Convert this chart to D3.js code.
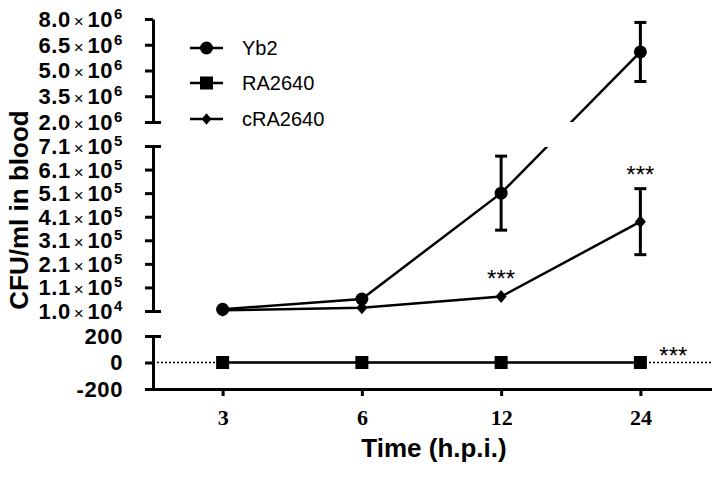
<!DOCTYPE html>
<html><head><meta charset="utf-8">
<script src="https://cdn.jsdelivr.net/npm/d3@7"></script>
<style>body{margin:0;background:#fff}</style>
</head><body><svg id="chart" width="720" height="478"></svg>
<script>
// ---- data ----
const categories = ["3", "6", "12", "24"];
const seriesNames = ["Yb2", "RA2640", "cRA2640"];
const seriesShapes = ["circle", "square", "diamond"];
const yb2 = [1.7e4, 6.1e4, 5.1e5, 6.08e6];
const yb2Err = [0, 0, 1.57e5, 1.72e6];
const ra2640 = [0, 0, 0, 0];
const ra2640Err = [0, 0, 0, 0];
const cra2640 = [1.3e4, 2.4e4, 7.1e4, 3.89e5];
const cra2640Err = [0, 0, 0, 1.4e5];
const topTicks = [2.0e6, 3.5e6, 5.0e6, 6.5e6, 8.0e6];
const midTicks = [1.0e4, 1.1e5, 2.1e5, 3.1e5, 4.1e5, 5.1e5, 6.1e5, 7.1e5];
const botTicks = [-200, 0, 200];
const sigCats = ["12", "24", "24"];
const sigSeries = ["cRA2640", "cRA2640", "RA2640"];
const sigText = ["***", "***", "***"];
const xTitle = "Time (h.p.i.)";
const yTitle = "CFU/ml in blood";

// ---- layout ----
const svg = d3.select("#chart");
const AX = 153, XR = 710, XEND = 712;
const x = d3.scalePoint().domain(categories).range([AX, XR]).padding(0.5);
const yTop = d3.scaleLinear().domain([2e6, 8e6]).range([122, 19]);
const yMid = d3.scaleLinear().domain([1e4, 7.1e5]).range([311, 146]);
const yBot = d3.scaleLinear().domain([-200, 200]).range([389, 336]);
function yPos(v) { if (v >= 1e6) return yTop(v); if (v >= 1000) return yMid(v); return yBot(v); }

const series = [
  {name: seriesNames[0], shape: seriesShapes[0], vals: yb2, errs: yb2Err},
  {name: seriesNames[1], shape: seriesShapes[1], vals: ra2640, errs: ra2640Err},
  {name: seriesNames[2], shape: seriesShapes[2], vals: cra2640, errs: cra2640Err}
];

const SANS = "'Liberation Sans', Arial, Helvetica, sans-serif";
const SERIF = "'Liberation Serif', 'Times New Roman', serif";

// ---- y axes (segmented) ----
function fmtSci(v) {
  const e = Math.floor(Math.log10(v) + 1e-9);
  const m = (v / Math.pow(10, e)).toFixed(1);
  return {m, e};
}
const segs = [
  {scale: yTop, ticks: topTicks, sci: true},
  {scale: yMid, ticks: midTicks, sci: true},
  {scale: yBot, ticks: botTicks, sci: false}
];
segs.forEach(s => {
  const g = svg.append("g").attr("transform", `translate(${AX},0)`)
    .call(d3.axisLeft(s.scale).tickValues(s.ticks).tickSize(8).tickSizeOuter(0).tickPadding(22));
  g.select(".domain").attr("stroke", "#000").attr("stroke-width", 3);
  g.selectAll(".tick line").attr("stroke", "#000").attr("stroke-width", 3);
  g.selectAll(".tick text").each(function(d) {
    const t = d3.select(this).text(null)
      .attr("font-family", SANS).attr("font-weight", "bold").attr("font-size", 22)
      .attr("fill", "#000").attr("dy", "0.34em").attr("letter-spacing", 0.6);
    if (s.sci) {
      const f = fmtSci(d);
      t.append("tspan").text(f.m);
      t.append("tspan").attr("font-weight", "normal").attr("font-size", 17).attr("dx", 3).text("\u00d7");
      t.append("tspan").attr("dx", 3).text("10");
      t.append("tspan").attr("font-size", 15).attr("dx", 1).attr("dy", -8).text(f.e);
    } else {
      t.text(String(d));
    }
  });
});
// break caps on right side of y axis
const caps = [yTop.range()[0], yMid.range()[1], yMid.range()[0], yBot.range()[1]];
svg.append("g").selectAll("line").data(caps).join("line")
  .attr("x1", AX).attr("x2", AX + 8).attr("y1", d => d + 0.5).attr("y2", d => d + 0.5)
  .attr("stroke", "#000").attr("stroke-width", 3);

// ---- x axis ----
const gx = svg.append("g").attr("transform", `translate(0,${yBot(-200)})`)
  .call(d3.axisBottom(x).tickSize(7).tickSizeOuter(0).tickPadding(13));
gx.select(".domain").remove();
gx.append("line").attr("x1", AX).attr("x2", XEND).attr("y1", 0.5).attr("y2", 0.5)
  .attr("stroke", "#000").attr("stroke-width", 3);
gx.selectAll(".tick line").attr("stroke", "#000").attr("stroke-width", 3);
gx.selectAll(".tick text").attr("font-family", SERIF).attr("font-weight", "bold")
  .attr("font-size", 22).attr("fill", "#000");

// ---- dotted zero line ----
svg.append("line").attr("x1", AX).attr("x2", XEND).attr("y1", yBot(0)).attr("y2", yBot(0))
  .attr("stroke", "#000").attr("stroke-width", 1.5).attr("stroke-dasharray", "2,2");

// ---- clip for broken axis ----
const defs = svg.append("defs");
const cp = defs.append("clipPath").attr("id", "segclip");
cp.append("rect").attr("x", AX).attr("y", 0).attr("width", 720 - AX).attr("height", yTop.range()[0]);
cp.append("rect").attr("x", AX).attr("y", yMid.range()[1] + 1).attr("width", 720 - AX).attr("height", 330 - yMid.range()[1] - 1);
cp.append("rect").attr("x", AX).attr("y", 330).attr("width", 720 - AX).attr("height", 80);

// ---- lines ----
const line = d3.line().x(d => x(d.cat)).y(d => yPos(d.v));
const plot = svg.append("g");
plot.append("g").attr("clip-path", "url(#segclip)").selectAll("path").data(series).join("path")
  .attr("d", s => line(categories.map((c, i) => ({cat: c, v: s.vals[i]}))))
  .attr("fill", "none").attr("stroke", "#000").attr("stroke-width", 2.5);

// ---- error bars ----
series.forEach(s => {
  categories.forEach((c, i) => {
    const e = s.errs[i];
    if (!e) return;
    const cx = x(c), y1 = yPos(s.vals[i] + e), y2 = yPos(s.vals[i] - e);
    const g = plot.append("g").attr("stroke", "#000").attr("stroke-width", 3);
    g.append("line").attr("x1", cx).attr("x2", cx).attr("y1", y1).attr("y2", y2);
    g.append("line").attr("x1", cx - 6).attr("x2", cx + 6).attr("y1", y1).attr("y2", y1);
    g.append("line").attr("x1", cx - 6).attr("x2", cx + 6).attr("y1", y2).attr("y2", y2);
  });
});

// ---- markers ----
function marker(g, shape, cx, cy, k) {
  k = k || 1;
  if (shape === "circle") {
    g.append("circle").attr("cx", cx).attr("cy", cy).attr("r", 6.5 * k).attr("fill", "#000");
  } else if (shape === "square") {
    const h = 6.5 * k;
    g.append("rect").attr("x", cx - h).attr("y", cy - h).attr("width", 2 * h).attr("height", 2 * h).attr("fill", "#000");
  } else {
    const w = 5.5 * k, h = 6.5 * k;
    g.append("path").attr("d", `M${cx},${cy - h}L${cx + w},${cy}L${cx},${cy + h}L${cx - w},${cy}Z`).attr("fill", "#000");
  }
}
series.forEach(s => {
  categories.forEach((c, i) => marker(plot, s.shape, x(c), yPos(s.vals[i])));
});

// ---- significance labels ----
sigCats.forEach((c, i) => {
  const s = series.find(d => d.name === sigSeries[i]);
  const idx = categories.indexOf(c);
  let cx = x(c), cy;
  if (s.errs[idx]) cy = yPos(s.vals[idx] + s.errs[idx]) - 19;
  else if (s.vals[idx] === 0) { cx += 33; cy = yPos(0) - 12.5; }
  else cy = yPos(s.vals[idx]) - 23;
  svg.append("text").attr("x", cx).attr("y", cy + 13.5).attr("text-anchor", "middle")
    .attr("font-family", SANS).attr("font-size", 24).attr("fill", "#000").text(sigText[i]);
});

// ---- legend ----
const legY = [48, 83, 119];
series.forEach((s, i) => {
  const g = svg.append("g");
  g.append("line").attr("x1", 190).attr("x2", 223).attr("y1", legY[i]).attr("y2", legY[i])
    .attr("stroke", "#000").attr("stroke-width", 2.5);
  marker(g, s.shape, 206.5, legY[i], s.shape === "diamond" ? 0.9 : 1);
  g.append("text").attr("x", 242).attr("y", legY[i]).attr("dy", "0.36em")
    .attr("font-family", SANS).attr("font-size", 20).attr("fill", "#000").text(s.name);
});

// ---- titles ----
svg.append("text").attr("x", 434).attr("y", 457).attr("text-anchor", "middle")
  .attr("font-family", SANS).attr("font-weight", "bold").attr("font-size", 26).attr("fill", "#000")
  .text(xTitle);
svg.append("text").attr("transform", "translate(28,210) rotate(-90)").attr("text-anchor", "middle")
  .attr("font-family", SANS).attr("font-weight", "bold").attr("font-size", 26).attr("fill", "#000")
  .text(yTitle);
</script></body></html>
